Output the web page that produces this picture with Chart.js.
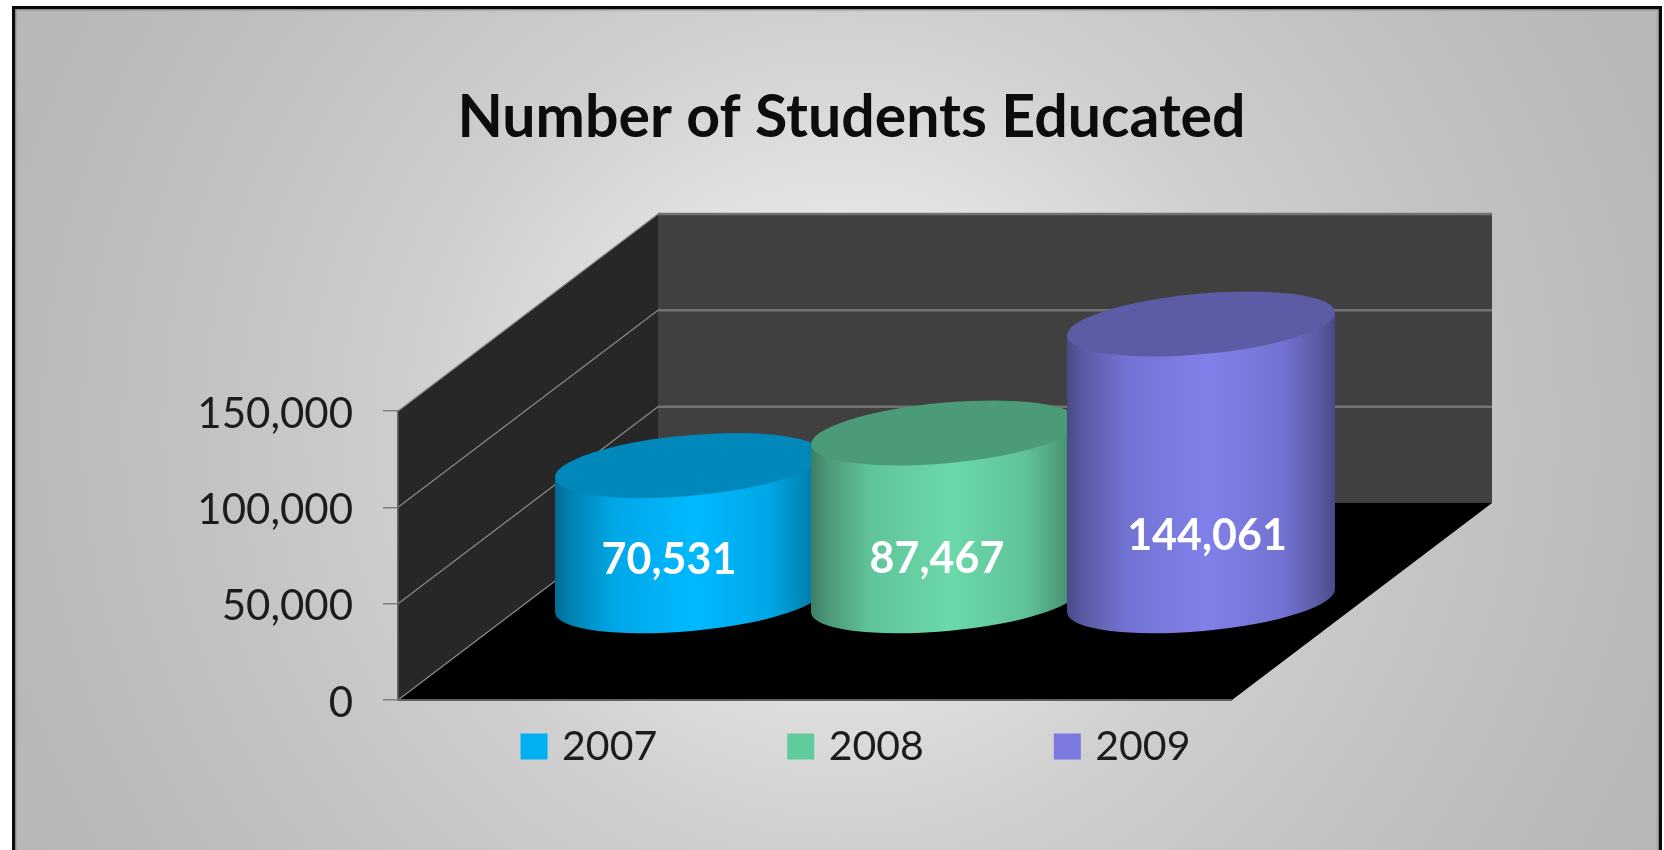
<!doctype html>
<html lang="en">
  <head>
    <meta charset="utf-8">
    <title>Number of Students Educated</title>
    <style>
      * {
        margin: 0;
        padding: 0;
      }
      html, body {
        width: 1664px;
        height: 850px;
        overflow: hidden;
        background: white;
      }
      .frame {
        position: absolute;
        left: 12px;
        top: 6px;
        width: 1650px;
        height: 860px;
        box-sizing: border-box;
        border: 3px solid #0a0a0a;
        box-shadow: inset 0 0 2px 1px #777;
        background: radial-gradient(circle 920px at 825px 419px, #f0f0f0 0%, #e4e4e4 23%, #cfcfcf 46%, #c3c3c3 68%, #b9b9b9 90%, #b7b7b7 100%);
      }
      #myChart {
        position: absolute;
        left: 0;
        top: 0;
      }
    </style>
  </head>
  <body>
    <div class="frame"></div>
    <canvas id="myChart" width="1664" height="850"></canvas>
    <script type="text/javascript" src="https://cdn.jsdelivr.net/npm/chart.js/dist/chart.umd.min.js"></script>
    <script>
    const categories = [''];
    const seriesNames = ['2007', '2008', '2009'];
    const seriesValues = [70531, 87467, 144061];
    const valueLabels = ['70,531', '87,467', '144,061'];
    const tickLabels = ['0', '50,000', '100,000', '150,000'];

    const legendColors = ['#00b0f0', '#60cc9e', '#7b78e0'];
    const sideColors = ['0,185,255', '107,217,170', '128,128,234'];
    const capColors = ['#0088ba', '#4b9a78', '#5c5ba5'];

    // how far the box runs back from the front plane
    const depthX = 260;
    const depthY = -197;

    // tilted ellipse of the cylinder ends
    const capRy = 30.3;
    const capTilt = -5.15 * Math.PI / 180;

    // the value labels do not sit on the cylinder centre
    const labelShift = [[-20, 1], [-8, 3], [6, 5]];
    const labelHeightShare = [0.31, 0.265, 0.25];

    const font = 'Lato, "Open Sans", sans-serif';

    // walls, floor and the grid lines running around them
    function drawBox(chart) {
      const ctx = chart.ctx;
      const area = chart.chartArea;
      const y = chart.scales.y;
      const left = area.left;
      const right = area.right;
      const bottom = y.getPixelForValue(0);
      const top = y.getPixelForValue(150000);

      ctx.save();
      ctx.fillStyle = '#272727';
      ctx.beginPath();
      ctx.moveTo(left, bottom);
      ctx.lineTo(left, top);
      ctx.lineTo(left + depthX, top + depthY);
      ctx.lineTo(left + depthX, bottom + depthY);
      ctx.closePath();
      ctx.fill();

      ctx.fillStyle = '#404040';
      ctx.fillRect(left + depthX, top + depthY, right - left, bottom - top);

      ctx.fillStyle = '#000';
      ctx.beginPath();
      ctx.moveTo(left, bottom);
      ctx.lineTo(left + depthX, bottom + depthY);
      ctx.lineTo(right + depthX, bottom + depthY);
      ctx.lineTo(right, bottom);
      ctx.closePath();
      ctx.fill();

      y.ticks.forEach((tick) => {
        const py = y.getPixelForValue(tick.value);
        ctx.strokeStyle = '#8a8a8a';
        ctx.lineWidth = 1.2;
        ctx.beginPath();
        ctx.moveTo(left, py);
        ctx.lineTo(left + depthX, py + depthY);
        ctx.stroke();
        if (tick.value > 0) {
          ctx.strokeStyle = '#727272';
          ctx.lineWidth = 2.5;
          ctx.beginPath();
          ctx.moveTo(left + depthX, py + depthY);
          ctx.lineTo(right + depthX, py + depthY);
          ctx.stroke();
        }
      });

      ctx.strokeStyle = '#606060';
      ctx.lineWidth = 2;
      ctx.beginPath();
      ctx.moveTo(left, bottom);
      ctx.lineTo(right, bottom);
      ctx.stroke();
      ctx.restore();
    }

    function endPoints(rx, ry) {
      // x extreme of the tilted ellipse and its height there
      const cos = Math.cos(capTilt);
      const sin = Math.sin(capTilt);
      const halfX = Math.sqrt(rx * rx * cos * cos + ry * ry * sin * sin);
      const offY = (rx * rx - ry * ry) * sin * cos / halfX;
      return { halfX, offY };
    }

    function drawCylinder(chart, index) {
      const ctx = chart.ctx;
      const bar = chart.getDatasetMeta(index).data[0];
      const cx = bar.x + depthX / 2;
      const topY = bar.y + depthY / 2;
      const baseY = bar.base + depthY / 2;
      const rx = bar.width / 2;
      const { halfX, offY } = endPoints(rx, capRy);
      const rgb = sideColors[index];

      const side = ctx.createLinearGradient(cx - halfX, 0, cx + halfX, 0);
      side.addColorStop(0, shade(rgb, 0.58));
      side.addColorStop(0.06, shade(rgb, 0.7));
      side.addColorStop(0.22, shade(rgb, 0.9));
      side.addColorStop(0.52, shade(rgb, 1));
      side.addColorStop(0.8, shade(rgb, 0.9));
      side.addColorStop(0.94, shade(rgb, 0.7));
      side.addColorStop(1, shade(rgb, 0.58));

      ctx.save();
      ctx.fillStyle = side;
      ctx.beginPath();
      ctx.moveTo(cx - halfX, topY - offY);
      ctx.lineTo(cx - halfX, baseY - offY);
      ctx.lineTo(cx + halfX, baseY + offY);
      ctx.lineTo(cx + halfX, topY + offY);
      ctx.closePath();
      ctx.fill();
      ctx.beginPath();
      ctx.ellipse(cx, baseY, rx, capRy, capTilt, 0, Math.PI * 2);
      ctx.fill();

      ctx.fillStyle = capColors[index];
      ctx.beginPath();
      ctx.ellipse(cx, topY, rx, capRy, capTilt, 0, Math.PI * 2);
      ctx.fill();
      ctx.restore();
    }

    function shade(rgb, k) {
      const parts = rgb.split(',').map((c) => Math.round(c * k));
      return 'rgb(' + parts.join(',') + ')';
    }

    const cylinderPlugin = {
      id: 'cylinders',
      beforeDraw(chart) {
        drawBox(chart);
      },
      afterLayout(chart) {
        // the wide label padding pushes the legend row down, pull it back up
        chart.legend.top -= 110;
        chart.legend.left += 7;
        chart.legend.right += 7;
      },
      beforeDatasetsDraw(chart) {
        // left to right, each cylinder covers the edge of the one before
        seriesValues.forEach((value, i) => drawCylinder(chart, i));

        const ctx = chart.ctx;
        ctx.save();
        ctx.fillStyle = '#fff';
        ctx.font = 'bold 43px ' + font;
        ctx.textAlign = 'center';
        ctx.textBaseline = 'middle';
        seriesValues.forEach((value, i) => {
          const bar = chart.getDatasetMeta(i).data[0];
          const x = bar.x + depthX / 2 + labelShift[i][0];
          const baseY = bar.base + depthY / 2;
          const y = baseY - (bar.base - bar.y) * labelHeightShare[i] + labelShift[i][1];
          ctx.fillText(valueLabels[i], x, y);
        });
        ctx.restore();
        return false;
      }
    };

    new Chart(document.getElementById('myChart'), {
      type: 'bar',
      data: {
        labels: categories,
        datasets: seriesNames.map((name, i) => ({
          label: name,
          data: [seriesValues[i]],
          backgroundColor: legendColors[i],
          // thick stroke around a small legend box, keeps the text close to the swatch
          borderColor: legendColors[i],
          borderWidth: 12,
          categoryPercentage: 0.9209,
          barPercentage: 1.0508
        }))
      },
      plugins: [cylinderPlugin],
      options: {
        responsive: false,
        animation: false,
        layout: {
          padding: { left: 39, right: 0, top: 0, bottom: 0 }
        },
        scales: {
          x: { display: false },
          y: {
            min: 0,
            max: 150000,
            afterFit(scale) {
              scale.width = 359;
            },
            grid: {
              drawOnChartArea: false,
              drawTicks: true,
              tickLength: 15,
              tickColor: '#808080',
              lineWidth: 1.5
            },
            border: { color: '#6a6a6a', width: 1.5 },
            ticks: {
              stepSize: 50000,
              padding: 30,
              labelOffset: 3,
              color: '#1c1c1c',
              font: { family: font, size: 42 },
              callback: (value, index) => tickLabels[index]
            }
          },
          // blank axis, keeps the box short of the right edge
          rightGap: {
            type: 'linear',
            position: 'right',
            afterFit(scale) {
              scale.width = 432;
            },
            grid: { display: false },
            border: { display: false },
            ticks: { display: false }
          }
        },
        plugins: {
          tooltip: { enabled: false },
          title: {
            display: true,
            text: 'Number of Students Educated',
            color: '#0c0c0c',
            font: { family: font, size: 59, weight: 'bold', lineHeight: 1 },
            padding: { top: 88, bottom: 264 }
          },
          legend: {
            position: 'bottom',
            maxHeight: 150,
            labels: {
              boxWidth: 15,
              boxHeight: 14,
              padding: 136,
              color: '#1c1c1c',
              font: { family: font, size: 41 }
            }
          }
        }
      }
    });
    </script>
  </body>
</html>
